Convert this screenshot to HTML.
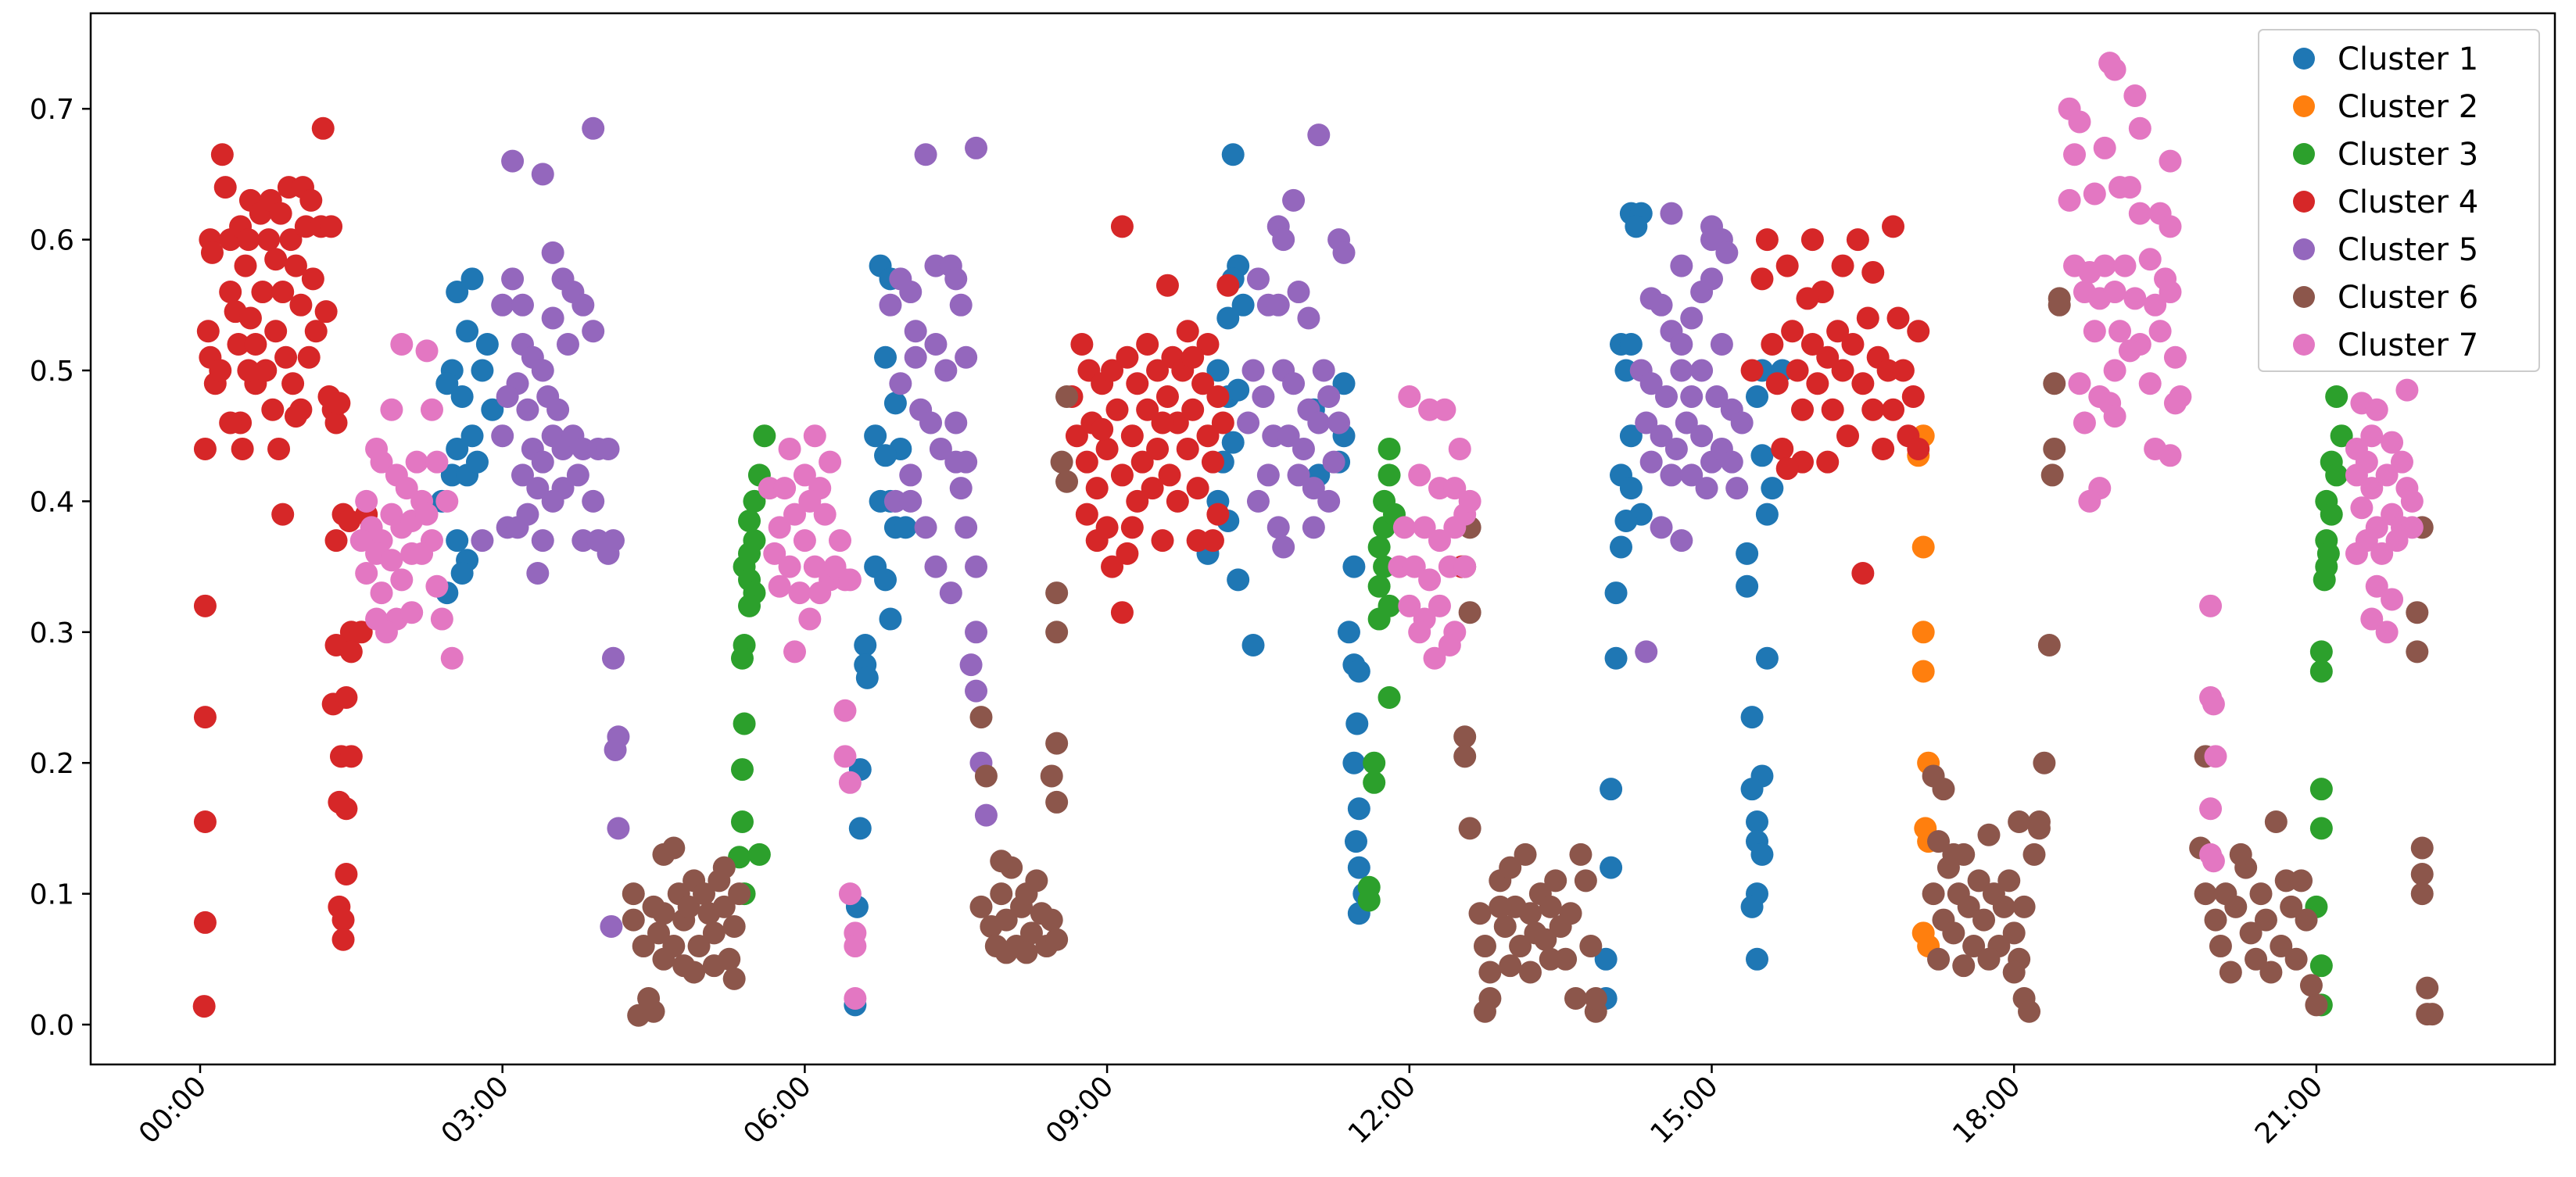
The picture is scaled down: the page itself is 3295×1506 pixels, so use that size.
<!DOCTYPE html>
<html><head><meta charset="utf-8"><style>
html,body{margin:0;padding:0;background:#fff;}
svg{display:block;font-family:"DejaVu Sans","Liberation Sans",sans-serif;}
</style></head><body>
<svg id="chart" width="3295" height="1506" viewBox="0 0 3295 1506" xmlns="http://www.w3.org/2000/svg">
<rect x="0" y="0" width="3295" height="1506" fill="#fff"/>
<g id="marks"></g>
<rect x="116" y="17" width="3152" height="1345" fill="none" stroke="#000" stroke-width="2.5"/>
<g id="yaxis"></g>
<g id="xaxis"></g>
<g id="legend"></g>
</svg>
<script>
const clusterNames = ["Cluster 1","Cluster 2","Cluster 3","Cluster 4","Cluster 5","Cluster 6","Cluster 7"];
const clusterColors = ["#1f77b4","#ff7f0e","#2ca02c","#d62728","#9467bd","#8c564b","#e377c2"];
const yTicks = [0.0,0.1,0.2,0.3,0.4,0.5,0.6,0.7];
const yTickLabels = ["0.0","0.1","0.2","0.3","0.4","0.5","0.6","0.7"];
const xTicks = [0,3,6,9,12,15,18,21];
const xTickLabels = ["00:00","03:00","06:00","09:00","12:00","15:00","18:00","21:00"];

const cluster1 = [[2.55,0.56],[2.7,0.57],[2.65,0.53],[2.5,0.5],[2.6,0.48],[2.45,0.49],[2.7,0.45],[2.55,0.44],[2.5,0.42],[2.65,0.42],[2.75,0.43],[2.4,0.4],[2.55,0.37],[2.65,0.355],[2.6,0.345],[2.45,0.33],[2.8,0.5],[2.85,0.52],[2.9,0.47],
[6.75,0.58],[6.85,0.57],[6.8,0.51],[6.7,0.45],[6.9,0.475],[6.85,0.4],[6.75,0.4],[6.9,0.38],[6.7,0.35],[6.8,0.34],[6.85,0.31],[6.6,0.29],[6.6,0.275],[6.62,0.265],[6.55,0.195],[6.55,0.15],[6.52,0.09],[6.5,0.015],[6.95,0.44],[7.0,0.38],[6.8,0.435],
[10.25,0.665],[10.3,0.58],[10.25,0.57],[10.2,0.54],[10.35,0.55],[10.1,0.5],[10.2,0.48],[10.3,0.485],[10.25,0.445],[10.15,0.43],[10.1,0.4],[10.2,0.385],[10.0,0.36],[10.3,0.34],[10.45,0.29],[11.1,0.42],[11.35,0.49],[11.35,0.45],[11.45,0.35],[11.4,0.3],[11.45,0.275],[11.5,0.27],[11.48,0.23],[11.45,0.2],[11.5,0.165],[11.47,0.14],[11.5,0.12],[11.55,0.1],[11.5,0.085],[11.3,0.43],[11.05,0.47],
[14.2,0.62],[14.3,0.62],[14.25,0.61],[14.1,0.52],[14.2,0.52],[14.15,0.5],[14.2,0.45],[14.1,0.42],[14.2,0.41],[14.3,0.39],[14.15,0.385],[14.1,0.365],[14.05,0.33],[14.05,0.28],[14.0,0.18],[14.0,0.12],[13.95,0.05],[13.95,0.02],[15.5,0.5],[15.45,0.48],[15.5,0.435],[15.6,0.41],[15.55,0.39],[15.35,0.36],[15.35,0.335],[15.55,0.28],[15.4,0.235],[15.5,0.19],[15.4,0.18],[15.45,0.155],[15.45,0.14],[15.5,0.13],[15.45,0.1],[15.4,0.09],[15.45,0.05],[15.7,0.5]];
const cluster2 = [[17.1,0.45],[17.05,0.435],[17.1,0.365],[17.1,0.3],[17.1,0.27],[17.15,0.2],[17.12,0.15],[17.15,0.14],[17.1,0.07],[17.15,0.06]];
const cluster3 = [[5.6,0.45],[5.55,0.42],[5.5,0.4],[5.45,0.385],[5.5,0.37],[5.45,0.36],[5.4,0.35],[5.45,0.34],[5.5,0.33],[5.45,0.32],[5.4,0.29],[5.38,0.28],[5.4,0.23],[5.38,0.195],[5.38,0.155],[5.35,0.128],[5.4,0.1],[5.55,0.13],
[11.8,0.44],[11.8,0.42],[11.75,0.4],[11.75,0.38],[11.7,0.365],[11.75,0.35],[11.7,0.335],[11.8,0.32],[11.7,0.31],[11.65,0.2],[11.65,0.185],[11.8,0.25],[11.6,0.105],[11.6,0.095],[11.85,0.39],
[21.2,0.48],[21.25,0.45],[21.15,0.43],[21.2,0.42],[21.1,0.4],[21.15,0.39],[21.1,0.37],[21.12,0.36],[21.08,0.34],[21.1,0.35],[21.05,0.285],[21.05,0.27],[21.05,0.18],[21.05,0.15],[21.0,0.09],[21.05,0.045],[21.05,0.015]];
const cluster4 = [[0.1,0.6],[0.12,0.59],[0.08,0.53],[0.1,0.51],[0.05,0.44],[0.15,0.49],[0.2,0.5],[0.22,0.665],[0.25,0.64],[0.3,0.6],[0.3,0.56],[0.35,0.545],[0.38,0.52],[0.4,0.61],[0.4,0.46],[0.42,0.44],[0.45,0.58],[0.48,0.6],[0.5,0.63],[0.5,0.54],[0.55,0.52],[0.55,0.49],[0.6,0.62],[0.62,0.56],[0.65,0.5],[0.68,0.6],[0.7,0.63],[0.72,0.47],[0.75,0.53],[0.75,0.585],[0.8,0.62],[0.82,0.56],[0.85,0.51],[0.88,0.64],[0.9,0.6],[0.92,0.49],[0.95,0.58],[1.0,0.55],[1.0,0.47],[1.02,0.64],[1.05,0.61],[1.08,0.51],[1.1,0.63],[1.12,0.57],[1.15,0.53],[1.2,0.61],[1.22,0.685],[1.25,0.545],[1.28,0.48],[1.3,0.61],[1.32,0.47],[1.35,0.46],[1.38,0.475],[0.3,0.46],[0.48,0.5],[0.78,0.44],[0.95,0.465],[0.82,0.39],
[0.05,0.32],[0.05,0.235],[0.05,0.155],[0.05,0.078],[0.04,0.014],
[1.35,0.37],[1.42,0.39],[1.48,0.385],[1.5,0.3],[1.6,0.3],[1.35,0.29],[1.5,0.285],[1.32,0.245],[1.45,0.25],[1.4,0.205],[1.5,0.205],[1.38,0.17],[1.45,0.165],[1.45,0.115],[1.38,0.09],[1.42,0.08],[1.42,0.065],[1.65,0.39],
[8.65,0.48],[8.7,0.45],[8.75,0.52],[8.8,0.43],[8.82,0.5],[8.85,0.46],[8.9,0.41],[8.9,0.37],[8.95,0.49],[9.0,0.44],[9.0,0.38],[9.05,0.35],[9.05,0.5],[9.1,0.47],[9.15,0.61],[9.15,0.42],[9.15,0.315],[9.2,0.51],[9.25,0.45],[9.25,0.38],[9.3,0.49],[9.35,0.43],[9.4,0.52],[9.4,0.47],[9.45,0.41],[9.5,0.5],[9.5,0.44],[9.55,0.37],[9.6,0.565],[9.6,0.48],[9.62,0.42],[9.65,0.51],[9.7,0.46],[9.7,0.4],[9.75,0.5],[9.8,0.44],[9.8,0.53],[9.85,0.47],[9.9,0.41],[9.9,0.37],[9.95,0.49],[10.0,0.45],[10.0,0.52],[10.05,0.43],[10.1,0.48],[10.1,0.39],[10.2,0.565],[10.15,0.46],[8.95,0.455],[9.3,0.4],[9.55,0.46],[9.85,0.51],[8.8,0.39],[9.2,0.36],[10.05,0.37],
[12.52,0.35],
[15.4,0.5],[15.5,0.57],[15.55,0.6],[15.6,0.52],[15.65,0.49],[15.7,0.44],[15.75,0.58],[15.8,0.53],[15.85,0.5],[15.9,0.47],[15.9,0.43],[16.0,0.6],[16.0,0.52],[16.05,0.49],[16.1,0.56],[16.15,0.51],[16.2,0.47],[16.25,0.53],[16.3,0.58],[16.3,0.5],[16.35,0.45],[16.4,0.52],[16.45,0.6],[16.5,0.49],[16.5,0.345],[16.55,0.54],[16.6,0.47],[16.65,0.51],[16.7,0.44],[16.75,0.5],[16.8,0.61],[16.8,0.47],[16.85,0.54],[16.9,0.5],[16.95,0.45],[17.0,0.48],[17.05,0.53],[17.05,0.44],[15.95,0.555],[16.15,0.43],[16.6,0.575],[15.75,0.425]];
const cluster5 = [[2.8,0.37],[3.1,0.66],[3.4,0.65],[3.9,0.685],[3.0,0.55],[3.1,0.57],[3.2,0.55],[3.5,0.54],[3.5,0.59],[3.6,0.57],[3.7,0.56],[3.8,0.55],[3.9,0.53],[3.65,0.52],[3.2,0.52],[3.3,0.51],[3.4,0.5],[3.15,0.49],[3.05,0.48],[3.25,0.47],[3.45,0.48],[3.55,0.47],[3.0,0.45],[3.3,0.44],[3.4,0.43],[3.5,0.45],[3.6,0.44],[3.7,0.45],[3.8,0.44],[3.95,0.44],[4.05,0.44],[3.2,0.42],[3.35,0.41],[3.6,0.41],[3.75,0.42],[3.9,0.4],[3.05,0.38],[3.15,0.38],[3.25,0.39],[3.4,0.37],[3.5,0.4],[3.8,0.37],[3.95,0.37],[4.05,0.36],[4.1,0.37],[3.35,0.345],[4.1,0.28],[4.15,0.22],[4.12,0.21],[4.15,0.15],[4.08,0.075],
[7.2,0.665],[7.7,0.67],[6.85,0.55],[6.95,0.57],[7.05,0.56],[7.1,0.53],[7.3,0.58],[7.45,0.58],[7.5,0.57],[7.55,0.55],[7.1,0.51],[7.3,0.52],[7.4,0.5],[7.6,0.51],[6.95,0.49],[7.15,0.47],[7.25,0.46],[7.5,0.46],[7.35,0.44],[7.5,0.43],[7.6,0.43],[7.55,0.41],[6.9,0.4],[7.05,0.4],[7.2,0.38],[7.6,0.38],[7.7,0.35],[7.45,0.33],[7.7,0.3],[7.65,0.275],[7.7,0.255],[7.75,0.2],[7.8,0.16],[7.05,0.42],[7.3,0.35],
[11.1,0.68],[10.85,0.63],[10.7,0.61],[10.75,0.6],[11.3,0.6],[11.35,0.59],[10.5,0.57],[10.6,0.55],[10.7,0.55],[10.9,0.56],[11.0,0.54],[10.45,0.5],[10.55,0.48],[10.75,0.5],[10.85,0.49],[11.0,0.47],[11.15,0.5],[11.2,0.48],[10.4,0.46],[10.65,0.45],[10.8,0.45],[10.95,0.44],[11.1,0.46],[11.25,0.43],[10.6,0.42],[10.9,0.42],[11.05,0.41],[11.2,0.4],[10.5,0.4],[10.7,0.38],[10.75,0.365],[11.05,0.38],[11.3,0.46],
[14.6,0.62],[14.7,0.58],[15.0,0.6],[15.0,0.61],[15.1,0.6],[15.15,0.59],[14.4,0.555],[14.5,0.55],[14.6,0.53],[14.7,0.52],[14.8,0.54],[14.9,0.56],[15.0,0.57],[15.1,0.52],[14.3,0.5],[14.4,0.49],[14.55,0.48],[14.7,0.5],[14.8,0.48],[14.9,0.5],[15.05,0.48],[15.2,0.47],[14.35,0.46],[14.5,0.45],[14.65,0.44],[14.75,0.46],[14.9,0.45],[15.0,0.43],[15.1,0.44],[15.2,0.43],[14.4,0.43],[14.6,0.42],[14.8,0.42],[14.95,0.41],[15.25,0.41],[14.5,0.38],[14.7,0.37],[14.35,0.285],[15.3,0.46]];
const cluster6 = [[4.3,0.1],[4.3,0.08],[4.35,0.007],[4.5,0.01],[4.45,0.02],[4.6,0.13],[4.7,0.135],[4.5,0.09],[4.55,0.07],[4.6,0.085],[4.7,0.06],[4.75,0.1],[4.8,0.08],[4.85,0.09],[4.9,0.11],[4.95,0.06],[4.9,0.04],[5.0,0.1],[5.05,0.085],[5.1,0.07],[5.15,0.11],[5.2,0.09],[5.25,0.05],[5.3,0.035],[5.35,0.1],[5.2,0.12],[5.1,0.045],[4.6,0.05],[4.4,0.06],[5.3,0.075],[4.8,0.045],
[7.75,0.235],[7.8,0.19],[7.75,0.09],[7.85,0.075],[7.9,0.06],[7.95,0.1],[8.0,0.08],[8.05,0.12],[8.1,0.06],[8.15,0.09],[8.2,0.1],[8.25,0.07],[8.3,0.11],[8.35,0.085],[8.4,0.06],[8.0,0.055],[7.95,0.125],[8.2,0.055],[8.45,0.08],[8.5,0.065],
[8.6,0.48],[8.55,0.43],[8.6,0.415],[8.5,0.33],[8.5,0.3],[8.5,0.215],[8.45,0.19],[8.5,0.17],
[12.6,0.38],[12.55,0.35],[12.6,0.315],[12.55,0.22],[12.55,0.205],[12.6,0.15],
[12.7,0.085],[12.75,0.06],[12.8,0.04],[12.8,0.02],[12.75,0.01],[12.9,0.11],[12.95,0.075],[13.0,0.12],[13.05,0.09],[13.1,0.06],[13.15,0.13],[13.2,0.085],[13.25,0.07],[13.3,0.1],[13.35,0.065],[13.4,0.09],[13.45,0.11],[13.5,0.075],[13.55,0.05],[13.6,0.085],[13.65,0.02],[13.7,0.13],[13.75,0.11],[13.8,0.06],[13.85,0.01],[13.85,0.02],[13.0,0.045],[13.2,0.04],[13.4,0.05],[12.9,0.09],
[17.2,0.19],[17.3,0.18],[17.25,0.14],[17.35,0.12],[17.2,0.1],[17.3,0.08],[17.4,0.07],[17.45,0.1],[17.5,0.13],[17.55,0.09],[17.6,0.06],[17.65,0.11],[17.7,0.08],[17.75,0.145],[17.8,0.1],[17.85,0.06],[17.9,0.09],[17.95,0.11],[18.0,0.07],[18.05,0.05],[18.1,0.02],[18.15,0.01],[18.2,0.13],[18.25,0.155],[17.25,0.05],[17.5,0.045],[18.1,0.09],[17.4,0.13],[18.0,0.04],[17.75,0.05],
[18.45,0.555],[18.45,0.55],[18.4,0.49],[18.4,0.44],[18.38,0.42],[18.35,0.29],[18.3,0.2],[18.25,0.15],[18.05,0.155],
[19.9,0.205],[19.85,0.135],[19.9,0.1],[20.0,0.08],[20.05,0.06],[20.1,0.1],[20.15,0.04],[20.2,0.09],[20.3,0.12],[20.35,0.07],[20.4,0.05],[20.45,0.1],[20.5,0.08],[20.6,0.155],[20.65,0.06],[20.7,0.11],[20.75,0.09],[20.8,0.05],[20.9,0.08],[20.95,0.03],[21.0,0.015],[20.55,0.04],[20.25,0.13],[20.85,0.11],
[22.05,0.38],[22.0,0.315],[22.0,0.285],[22.05,0.135],[22.05,0.115],[22.05,0.1],[22.1,0.028],[22.15,0.008],[22.1,0.008]];
const cluster7 = [[1.75,0.44],[1.8,0.43],[1.9,0.47],[2.0,0.52],[2.25,0.515],[2.3,0.47],[1.95,0.42],[2.05,0.41],[2.15,0.43],[2.2,0.4],[2.35,0.43],[1.65,0.4],[1.7,0.38],[1.8,0.37],[1.9,0.39],[2.0,0.38],[2.1,0.385],[2.25,0.39],[2.3,0.37],[1.75,0.36],[1.9,0.355],[2.1,0.36],[2.2,0.36],[1.65,0.345],[1.8,0.33],[2.0,0.34],[1.95,0.31],[1.75,0.31],[1.85,0.3],[2.1,0.315],[2.35,0.335],[2.4,0.31],[2.5,0.28],[1.6,0.37],[2.45,0.4],
[5.85,0.44],[6.1,0.45],[6.25,0.43],[5.65,0.41],[5.8,0.41],[6.0,0.42],[6.15,0.41],[5.75,0.38],[5.9,0.39],[6.05,0.4],[6.2,0.39],[6.35,0.37],[5.7,0.36],[5.85,0.35],[6.0,0.37],[6.1,0.35],[6.25,0.34],[6.4,0.34],[5.75,0.335],[5.95,0.33],[6.15,0.33],[6.3,0.35],[6.05,0.31],[5.9,0.285],[6.45,0.34],[6.4,0.24],[6.4,0.205],[6.45,0.185],[6.45,0.1],[6.5,0.07],[6.5,0.06],[6.5,0.02],
[12.0,0.48],[12.2,0.47],[12.35,0.47],[12.5,0.44],[12.1,0.42],[12.3,0.41],[12.45,0.41],[11.95,0.38],[12.15,0.38],[12.3,0.37],[12.45,0.38],[12.55,0.39],[11.9,0.35],[12.05,0.35],[12.2,0.34],[12.4,0.35],[12.55,0.35],[12.0,0.32],[12.15,0.31],[12.3,0.32],[12.45,0.3],[12.1,0.3],[12.25,0.28],[12.4,0.29],[12.6,0.4],
[18.95,0.735],[19.0,0.73],[19.2,0.71],[18.55,0.7],[18.65,0.69],[19.25,0.685],[18.6,0.665],[18.9,0.67],[19.55,0.66],[18.55,0.63],[18.8,0.635],[19.05,0.64],[19.15,0.64],[19.25,0.62],[19.45,0.62],[19.55,0.61],[18.6,0.58],[18.75,0.575],[18.9,0.58],[19.1,0.58],[19.35,0.585],[19.5,0.57],[18.7,0.56],[18.85,0.555],[19.0,0.56],[19.2,0.555],[19.4,0.55],[19.55,0.56],[18.8,0.53],[19.05,0.53],[19.25,0.52],[19.45,0.53],[19.6,0.51],[18.65,0.49],[18.85,0.48],[19.0,0.5],[19.15,0.515],[19.35,0.49],[19.65,0.48],[18.7,0.46],[18.95,0.475],[19.4,0.44],[19.55,0.435],[18.85,0.41],[18.75,0.4],[19.0,0.465],[19.6,0.475],
[19.95,0.32],[19.95,0.25],[19.98,0.245],[20.0,0.205],[19.95,0.165],[19.95,0.13],[19.98,0.125],
[21.45,0.475],[21.6,0.47],[21.9,0.485],[21.4,0.44],[21.55,0.45],[21.75,0.445],[21.85,0.43],[21.4,0.42],[21.55,0.41],[21.7,0.42],[21.9,0.41],[21.95,0.4],[21.45,0.395],[21.6,0.38],[21.75,0.39],[21.85,0.38],[21.5,0.37],[21.65,0.36],[21.8,0.37],[21.95,0.38],[21.6,0.335],[21.55,0.31],[21.7,0.3],[21.4,0.36],[21.5,0.43],[21.75,0.325]];

const allClusters = [cluster1,cluster2,cluster3,cluster4,cluster5,cluster6,cluster7];
const NS = "http://www.w3.org/2000/svg";
function xScale(h){ return 256 + h * 128.9; }
function yScale(v){ return 1311 - v * 1674; }

const marks = document.getElementById('marks');
allClusters.forEach(function(pts, ci){
  const g = document.createElementNS(NS,'g');
  
  
  pts.forEach(function(p){
    const c = document.createElementNS(NS,'circle');
    c.setAttribute('cx', xScale(p[0]));
    c.setAttribute('cy', yScale(p[1]));
    c.setAttribute('r', 14.5);
    c.setAttribute('fill', clusterColors[ci]);
    
    
    g.appendChild(c);
  });
  marks.appendChild(g);
});

const yaxis = document.getElementById('yaxis');
yTicks.forEach(function(v, i){
  const y = yScale(v);
  const t = document.createElementNS(NS,'line');
  t.setAttribute('x1', 105); t.setAttribute('x2', 116);
  t.setAttribute('y1', y); t.setAttribute('y2', y);
  t.setAttribute('stroke', '#000'); t.setAttribute('stroke-width', 2.5);
  
  
  yaxis.appendChild(t);
  const tx = document.createElementNS(NS,'text');
  tx.setAttribute('x', 95); tx.setAttribute('y', y + 13);
  tx.setAttribute('text-anchor', 'end'); tx.setAttribute('font-size', 36);
  tx.textContent = yTickLabels[i];
  
  
  yaxis.appendChild(tx);
});

const xaxis = document.getElementById('xaxis');
xTicks.forEach(function(h, i){
  const x = xScale(h);
  const t = document.createElementNS(NS,'line');
  t.setAttribute('x1', x); t.setAttribute('x2', x);
  t.setAttribute('y1', 1362); t.setAttribute('y2', 1373);
  t.setAttribute('stroke', '#000'); t.setAttribute('stroke-width', 2.5);
  
  
  xaxis.appendChild(t);
  const tx = document.createElementNS(NS,'text');
  tx.setAttribute('x', 0); tx.setAttribute('y', 0);
  tx.setAttribute('text-anchor', 'end'); tx.setAttribute('font-size', 36);
  tx.setAttribute('transform', 'translate(' + (x + 10) + ',1392) rotate(-45)');
  tx.textContent = xTickLabels[i];
  
  
  xaxis.appendChild(tx);
});

const legend = document.getElementById('legend');
const box = document.createElementNS(NS,'rect');
box.setAttribute('x', 2889); box.setAttribute('y', 38);
box.setAttribute('width', 359); box.setAttribute('height', 437);
box.setAttribute('rx', 6); box.setAttribute('fill', '#fff');
box.setAttribute('fill-opacity', 0.8);
box.setAttribute('stroke', '#ccc'); box.setAttribute('stroke-width', 2);


legend.appendChild(box);
clusterNames.forEach(function(name, i){
  const cy = 75 + i * 61;
  const c = document.createElementNS(NS,'circle');
  c.setAttribute('cx', 2947); c.setAttribute('cy', cy); c.setAttribute('r', 14);
  c.setAttribute('fill', clusterColors[i]);
  
  
  legend.appendChild(c);
  const tx = document.createElementNS(NS,'text');
  tx.setAttribute('x', 2990); tx.setAttribute('y', cy + 14);
  tx.setAttribute('font-size', 40);
  tx.textContent = name;
  
  
  legend.appendChild(tx);
});
</script>
</body></html>
